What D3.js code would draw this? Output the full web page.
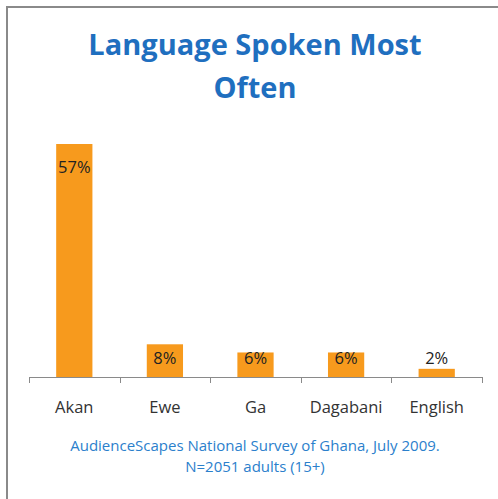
<!DOCTYPE html>
<html>
<head>
<meta charset="utf-8">
<script src="https://cdn.jsdelivr.net/npm/d3@7"></script>
<style>
  html, body { margin: 0; padding: 0; background: #fff; }
  svg { display: block; }
</style>
</head>
<body>
<svg id="chart" width="498" height="499"></svg>
<script>
// Language spoken most often (share of adults, %)
const categories = ["Akan", "Ewe", "Ga", "Dagabani", "English"];
const values = [57, 8, 6, 6, 2];
const titleLines = ["Language Spoken Most", "Often"];
const noteLines = ["AudienceScapes National Survey of Ghana, July 2009.", "N=2051 adults (15+)"];

const W = 498, H = 499;
const font = "'Open Sans', 'DejaVu Sans', sans-serif";
const svg = d3.select("#chart");

// Frame
svg.append("path")
  .attr("d", `M7,${H} L7,7 L${W},7`)
  .attr("fill", "none")
  .attr("stroke", "#8a8a8a")
  .attr("stroke-width", 2);

// Title
svg.append("text")
  .attr("x", 255)
  .attr("font-family", font)
  .attr("font-weight", "bold")
  .attr("font-size", 29)
  .attr("fill", "#1f6fbf")
  .attr("text-anchor", "middle")
  .selectAll("tspan")
  .data(titleLines)
  .join("tspan")
  .attr("x", 255)
  .attr("y", (d, i) => 55 + i * 43)
  .text(d => d);

// Scales
const x = d3.scaleBand().domain(categories).range([29, 482]).paddingInner(0.6).paddingOuter(0.3);
const y = d3.scaleLinear().domain([0, 57]).range([377, 144]);

// Bars
svg.append("g")
  .selectAll("rect")
  .data(categories)
  .join("rect")
  .attr("x", d => x(d))
  .attr("width", x.bandwidth())
  .attr("y", (d, i) => y(values[i]))
  .attr("height", (d, i) => y(0) - y(values[i]))
  .attr("fill", "#f79a1d");

// Value labels
svg.append("g")
  .selectAll("text")
  .data(categories)
  .join("text")
  .attr("x", d => x(d) + x.bandwidth() / 2)
  .attr("y", (d, i) => Math.min(y(values[i]) + 29, y(0) - 13))
  .attr("text-anchor", "middle")
  .attr("font-family", font)
  .attr("font-size", 16.5)
  .attr("fill", "#222")
  .text((d, i) => values[i] + "%");

// Category axis
const axisG = svg.append("g");
axisG.append("line")
  .attr("x1", 29).attr("x2", 482)
  .attr("y1", y(0) + 0.5).attr("y2", y(0) + 0.5)
  .attr("stroke", "#8a8a8a");
const tickXs = d3.range(categories.length + 1).map(i => 29 + i * (453 / categories.length));
axisG.selectAll("line.tick")
  .data(tickXs)
  .join("line")
  .attr("class", "tick")
  .attr("x1", d => Math.round(d) + 0.5).attr("x2", d => Math.round(d) + 0.5)
  .attr("y1", y(0)).attr("y2", y(0) + 6)
  .attr("stroke", "#8a8a8a");
axisG.selectAll("text")
  .data(categories)
  .join("text")
  .attr("x", d => x(d) + x.bandwidth() / 2)
  .attr("y", 413)
  .attr("text-anchor", "middle")
  .attr("font-family", font)
  .attr("font-size", 16.5)
  .attr("fill", "#333")
  .text(d => d);

// Source note
svg.append("text")
  .attr("font-family", font)
  .attr("font-size", 15)
  .attr("fill", "#2b80cc")
  .attr("text-anchor", "middle")
  .selectAll("tspan")
  .data(noteLines)
  .join("tspan")
  .attr("x", 255)
  .attr("y", (d, i) => 451 + i * 21)
  .text(d => d);
</script>
</body>
</html>
